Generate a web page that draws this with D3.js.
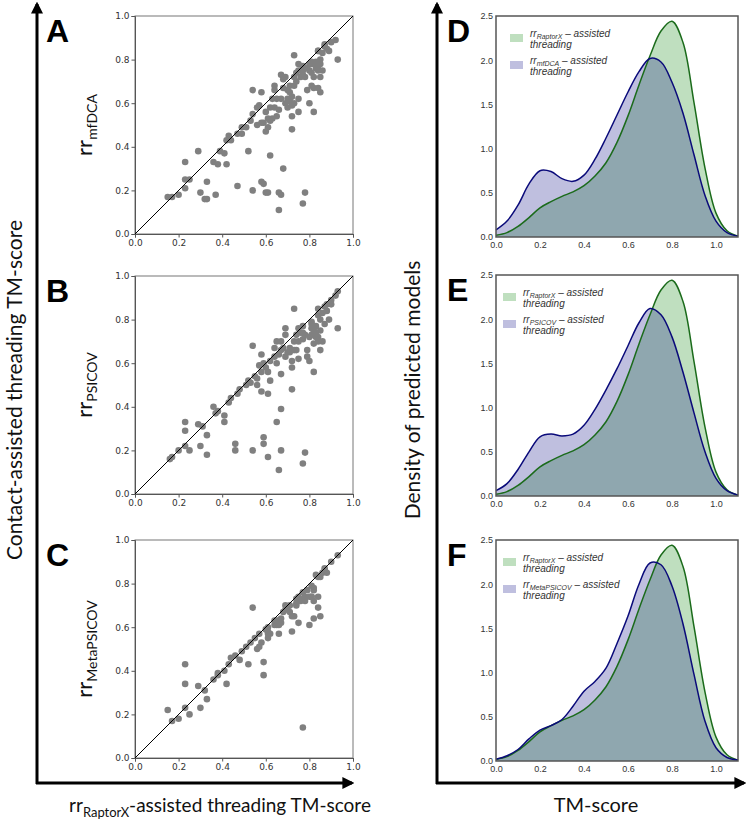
<!DOCTYPE html>
<html><head><meta charset="utf-8">
<script src="https://cdn.jsdelivr.net/npm/d3@7"></script>
<style>body{margin:0;background:#fff}svg{display:block}</style>
</head><body>
<svg id="c" width="747" height="827"></svg>
<script>
// ---------------- DATA ----------------
const scatterTicks = [0.0, 0.2, 0.4, 0.6, 0.8, 1.0];
const densityXTicks = [0.0, 0.2, 0.4, 0.6, 0.8, 1.0];
const densityYTicks = [0.0, 0.5, 1.0, 1.5, 2.0, 2.5];
const panelLetters = ["A", "B", "C", "D", "E", "F"];
const methodNames = ["mfDCA", "PSICOV", "MetaPSICOV"];

// x = rrRaptorX-assisted TM-score, y = other method
const mfdcaPoints = [[0.15,0.17],[0.17,0.17],[0.20,0.18],[0.23,0.21],[0.23,0.25],[0.25,0.25],[0.23,0.33],[0.29,0.38],[0.30,0.19],[0.32,0.16],[0.33,0.16],[0.33,0.24],[0.37,0.18],[0.36,0.33],[0.38,0.32],[0.39,0.38],[0.41,0.37],[0.42,0.32],[0.42,0.43],[0.43,0.45],[0.44,0.43],[0.47,0.22],[0.47,0.46],[0.49,0.46],[0.49,0.49],[0.51,0.49],[0.52,0.38],[0.53,0.52],[0.54,0.66],[0.54,0.20],[0.56,0.50],[0.57,0.59],[0.58,0.24],[0.59,0.23],[0.58,0.65],[0.60,0.19],[0.61,0.19],[0.59,0.51],[0.61,0.49],[0.61,0.53],[0.62,0.52],[0.60,0.56],[0.62,0.36],[0.63,0.62],[0.62,0.58],[0.64,0.66],[0.65,0.62],[0.66,0.57],[0.65,0.54],[0.66,0.19],[0.67,0.18],[0.66,0.11],[0.68,0.30],[0.67,0.73],[0.69,0.72],[0.68,0.67],[0.70,0.66],[0.71,0.68],[0.71,0.65],[0.72,0.63],[0.70,0.62],[0.71,0.61],[0.73,0.60],[0.72,0.59],[0.73,0.68],[0.74,0.70],[0.72,0.54],[0.72,0.48],[0.73,0.82],[0.75,0.56],[0.75,0.62],[0.74,0.74],[0.76,0.72],[0.77,0.75],[0.77,0.73],[0.78,0.72],[0.79,0.76],[0.80,0.75],[0.81,0.74],[0.81,0.78],[0.82,0.72],[0.83,0.79],[0.84,0.75],[0.84,0.77],[0.85,0.78],[0.86,0.75],[0.85,0.72],[0.84,0.84],[0.84,0.84],[0.86,0.83],[0.87,0.86],[0.88,0.85],[0.89,0.84],[0.90,0.88],[0.92,0.89],[0.93,0.80],[0.79,0.66],[0.81,0.68],[0.82,0.67],[0.84,0.67],[0.85,0.65],[0.80,0.60],[0.82,0.56],[0.78,0.19],[0.77,0.14],[0.64,0.68],[0.68,0.71],[0.73,0.72],[0.75,0.78],[0.77,0.77],[0.81,0.79],[0.82,0.78],[0.83,0.76],[0.85,0.80],[0.87,0.87],[0.67,0.62],[0.69,0.60],[0.70,0.58],[0.63,0.53],[0.64,0.58],[0.60,0.47],[0.58,0.51],[0.54,0.55],[0.56,0.58],[0.77,0.76],[0.80,0.78],[0.75,0.75]];

const psicovPoints = [[0.16,0.16],[0.17,0.17],[0.20,0.20],[0.23,0.22],[0.25,0.20],[0.23,0.33],[0.23,0.29],[0.29,0.32],[0.30,0.22],[0.31,0.31],[0.33,0.27],[0.33,0.18],[0.36,0.40],[0.37,0.37],[0.38,0.38],[0.41,0.36],[0.41,0.33],[0.43,0.42],[0.44,0.44],[0.46,0.23],[0.46,0.20],[0.47,0.46],[0.48,0.48],[0.51,0.50],[0.52,0.52],[0.54,0.68],[0.54,0.20],[0.55,0.54],[0.56,0.50],[0.57,0.59],[0.58,0.47],[0.58,0.64],[0.59,0.23],[0.59,0.26],[0.60,0.58],[0.61,0.56],[0.61,0.17],[0.61,0.46],[0.62,0.52],[0.62,0.61],[0.64,0.67],[0.65,0.60],[0.65,0.33],[0.66,0.11],[0.67,0.70],[0.67,0.39],[0.67,0.55],[0.67,0.20],[0.67,0.66],[0.69,0.76],[0.69,0.73],[0.70,0.65],[0.71,0.67],[0.72,0.61],[0.72,0.58],[0.72,0.48],[0.73,0.70],[0.73,0.85],[0.74,0.73],[0.74,0.66],[0.75,0.62],[0.75,0.70],[0.76,0.74],[0.77,0.77],[0.77,0.71],[0.78,0.73],[0.77,0.14],[0.78,0.19],[0.79,0.66],[0.79,0.63],[0.80,0.61],[0.81,0.76],[0.81,0.79],[0.82,0.56],[0.82,0.69],[0.83,0.77],[0.83,0.74],[0.84,0.82],[0.84,0.70],[0.84,0.85],[0.85,0.66],[0.85,0.80],[0.86,0.83],[0.86,0.70],[0.87,0.86],[0.88,0.84],[0.89,0.80],[0.90,0.89],[0.93,0.93],[0.93,0.76],[0.80,0.72],[0.81,0.73],[0.82,0.75],[0.83,0.72],[0.81,0.78],[0.77,0.74],[0.75,0.76],[0.73,0.66],[0.71,0.65],[0.68,0.67],[0.69,0.63],[0.66,0.64],[0.64,0.63],[0.59,0.60],[0.58,0.56],[0.56,0.53],[0.53,0.51],[0.85,0.75],[0.87,0.78],[0.88,0.87],[0.84,0.72],[0.90,0.87],[0.92,0.91],[0.65,0.70]];

const metapsicovPoints = [[0.15,0.22],[0.17,0.17],[0.20,0.18],[0.23,0.23],[0.23,0.43],[0.23,0.34],[0.25,0.20],[0.29,0.33],[0.30,0.23],[0.32,0.31],[0.33,0.27],[0.36,0.36],[0.38,0.38],[0.38,0.39],[0.41,0.40],[0.42,0.34],[0.43,0.43],[0.44,0.46],[0.46,0.47],[0.48,0.45],[0.49,0.49],[0.51,0.51],[0.52,0.43],[0.53,0.53],[0.54,0.69],[0.55,0.55],[0.56,0.50],[0.57,0.57],[0.58,0.53],[0.59,0.38],[0.59,0.44],[0.60,0.59],[0.61,0.58],[0.61,0.60],[0.62,0.57],[0.64,0.61],[0.65,0.61],[0.65,0.63],[0.66,0.57],[0.66,0.63],[0.67,0.64],[0.68,0.67],[0.69,0.68],[0.70,0.69],[0.71,0.70],[0.72,0.65],[0.73,0.65],[0.72,0.58],[0.74,0.71],[0.74,0.73],[0.75,0.62],[0.75,0.74],[0.76,0.72],[0.77,0.73],[0.77,0.76],[0.78,0.74],[0.77,0.14],[0.79,0.77],[0.80,0.74],[0.80,0.61],[0.81,0.74],[0.81,0.79],[0.82,0.77],[0.82,0.64],[0.83,0.84],[0.84,0.69],[0.84,0.74],[0.84,0.83],[0.85,0.65],[0.86,0.85],[0.87,0.86],[0.88,0.85],[0.90,0.90],[0.93,0.93],[0.64,0.63],[0.61,0.57],[0.66,0.61],[0.67,0.62],[0.57,0.51],[0.61,0.55],[0.81,0.74],[0.82,0.78],[0.85,0.83],[0.87,0.87],[0.74,0.70],[0.71,0.67],[0.69,0.70],[0.78,0.72],[0.82,0.72]];

// density curves sampled at TM-score grid
const tmGrid = [0.00,0.05,0.10,0.15,0.20,0.25,0.30,0.35,0.40,0.45,0.50,0.55,0.60,0.65,0.70,0.75,0.80,0.85,0.90,0.95,1.00,1.05,1.10];
const raptorxDensity     = [0.02,0.05,0.12,0.22,0.33,0.40,0.46,0.51,0.58,0.69,0.84,1.07,1.37,1.72,2.05,2.33,2.44,2.20,1.52,0.78,0.27,0.07,0.01];
const mfdcaDensity       = [0.08,0.18,0.36,0.60,0.75,0.74,0.66,0.63,0.70,0.88,1.12,1.38,1.64,1.87,2.02,1.98,1.75,1.40,0.93,0.47,0.18,0.05,0.01];
const psicovDensity      = [0.06,0.14,0.30,0.50,0.67,0.70,0.68,0.70,0.80,0.98,1.20,1.44,1.70,1.96,2.12,2.05,1.80,1.40,0.94,0.50,0.20,0.06,0.01];
const metapsicovDensity  = [0.02,0.06,0.13,0.25,0.35,0.40,0.47,0.62,0.79,0.90,1.05,1.33,1.64,2.00,2.24,2.22,1.98,1.55,0.98,0.45,0.15,0.04,0.01];

// ---------------- DRAW ----------------
const svg = d3.select("#c");
const bigFont = "Lato, 'Open Sans', sans-serif";
const narrow = "'Liberation Sans Narrow', 'Arial Narrow', 'Liberation Sans', sans-serif";

const scatterPanels = [
  {top: 16, pts: mfdcaPoints, name: methodNames[0], letter: panelLetters[0]},
  {top: 276, pts: psicovPoints, name: methodNames[1], letter: panelLetters[1]},
  {top: 540, pts: metapsicovPoints, name: methodNames[2], letter: panelLetters[2]}
];
const sLeft = 135, sSize = 218;

scatterPanels.forEach(p => {
  const g = svg.append("g").attr("transform", `translate(${sLeft},${p.top})`);
  const x = d3.scaleLinear().domain([0, 1]).range([0, sSize]);
  const y = d3.scaleLinear().domain([0, 1]).range([sSize, 0]);
  g.append("rect").attr("width", sSize).attr("height", sSize)
    .attr("fill", "none").attr("stroke", "#777").attr("stroke-width", 1);
  const xa = g.append("g").attr("transform", `translate(0,${sSize})`)
    .call(d3.axisBottom(x).tickValues(scatterTicks).tickFormat(d3.format(".1f")).tickSize(3.5).tickPadding(2));
  const ya = g.append("g")
    .call(d3.axisLeft(y).tickValues(scatterTicks).tickFormat(d3.format(".1f")).tickSize(3.5).tickPadding(2));
  [xa, ya].forEach(a => {
    a.select(".domain").attr("stroke", "#555");
    a.selectAll(".tick line").attr("stroke", "#555");
    a.selectAll("text").attr("font-family", "'DejaVu Sans', sans-serif").attr("font-size", 9).attr("fill", "#333");
  });
  g.append("g").selectAll("circle").data(p.pts).join("circle")
    .attr("cx", d => x(d[0])).attr("cy", d => y(d[1])).attr("r", 3.3).attr("fill", "#808080");
  g.append("line").attr("x1", x(0)).attr("y1", y(0)).attr("x2", x(1)).attr("y2", y(1))
    .attr("stroke", "#000").attr("stroke-width", 1);
  const yl = svg.append("text")
    .attr("transform", `translate(92,${p.top + sSize / 2}) rotate(-90)`)
    .attr("text-anchor", "middle").attr("font-family", bigFont).attr("font-size", 22).attr("fill", "#111");
  yl.append("tspan").text("rr");
  yl.append("tspan").attr("font-size", 14).attr("dy", 5).text(p.name);
  svg.append("text").attr("x", 46).attr("y", p.top + 26).attr("font-family", "'Liberation Sans', Arial, sans-serif")
    .attr("font-weight", "bold").attr("font-size", 32).attr("fill", "#000").text(p.letter);
});

const densityPanels = [
  {top: 16, d: mfdcaDensity, name: methodNames[0], letter: panelLetters[3], lx: 14},
  {top: 275, d: psicovDensity, name: methodNames[1], letter: panelLetters[4], lx: 7},
  {top: 540, d: metapsicovDensity, name: methodNames[2], letter: panelLetters[5], lx: 7}
];
const dLeft = 496, dW = 242, dH = 221;
const greenLine = "#1b6b1b", navyLine = "#0a0a7a";

densityPanels.forEach(p => {
  const g = svg.append("g").attr("transform", `translate(${dLeft},${p.top})`);
  const x = d3.scaleLinear().domain([0, 1.1]).range([0, dW]);
  const y = d3.scaleLinear().domain([0, 2.5]).range([dH, 0]);
  const area = vals => d3.area().x((d, i) => x(tmGrid[i])).y0(y(0)).y1(d => y(d))
    .curve(d3.curveCatmullRom.alpha(0.5))(vals);
  const line = vals => d3.line().x((d, i) => x(tmGrid[i])).y(d => y(d))
    .curve(d3.curveCatmullRom.alpha(0.5))(vals);
  g.append("path").attr("d", area(raptorxDensity)).attr("fill", "#008000").attr("fill-opacity", 0.25);
  g.append("path").attr("d", area(p.d)).attr("fill", "#000080").attr("fill-opacity", 0.25);
  g.append("path").attr("d", line(raptorxDensity)).attr("fill", "none").attr("stroke", greenLine).attr("stroke-width", 1.5);
  g.append("path").attr("d", line(p.d)).attr("fill", "none").attr("stroke", navyLine).attr("stroke-width", 1.5);
  g.append("rect").attr("width", dW).attr("height", dH).attr("fill", "none").attr("stroke", "#555").attr("stroke-width", 1.5);
  const xa = g.append("g").attr("transform", `translate(0,${dH})`)
    .call(d3.axisBottom(x).tickValues(densityXTicks).tickFormat(d3.format(".1f")).tickSize(0).tickPadding(5));
  const ya = g.append("g")
    .call(d3.axisLeft(y).tickValues(densityYTicks).tickFormat(d3.format(".1f")).tickSize(0).tickPadding(3));
  [xa, ya].forEach(a => {
    a.select(".domain").remove();
    a.selectAll("text").attr("font-family", narrow).attr("font-size", 9).attr("fill", "#333");
  });
  const entries = [
    {c: "#008000", name: "RaptorX", dy: 0},
    {c: "#000080", name: p.name, dy: 27}
  ];
  entries.forEach(e => {
    g.append("rect").attr("x", p.lx).attr("y", 18 + e.dy).attr("width", 13).attr("height", 8)
      .attr("fill", e.c).attr("fill-opacity", 0.25);
    const t = g.append("text").attr("x", p.lx + 20).attr("y", 21 + e.dy)
      .attr("font-family", narrow).attr("font-style", "italic").attr("font-size", 10).attr("fill", "#333");
    t.append("tspan").text("rr");
    t.append("tspan").attr("font-size", 7).attr("dy", 1.5).text(e.name);
    t.append("tspan").attr("dy", -1.5).text(" \u2013 assisted");
    g.append("text").attr("x", p.lx + 20).attr("y", 32 + e.dy)
      .attr("font-family", narrow).attr("font-style", "italic").attr("font-size", 10).attr("fill", "#333").text("threading");
  });
  svg.append("text").attr("x", 447).attr("y", p.top + 26).attr("font-family", "'Liberation Sans', Arial, sans-serif")
    .attr("font-weight", "bold").attr("font-size", 32).attr("fill", "#000").text(p.letter);
});

// big axes arrows
svg.append("defs").append("marker").attr("id", "ah").attr("viewBox", "0 0 10 10")
  .attr("refX", 8).attr("refY", 5).attr("markerWidth", 4).attr("markerHeight", 4).attr("orient", "auto")
  .append("path").attr("d", "M0,0 L10,5 L0,10 Z").attr("fill", "#000");
const arrow = (x1, y1, x2, y2) => svg.append("line").attr("x1", x1).attr("y1", y1).attr("x2", x2).attr("y2", y2)
  .attr("stroke", "#000").attr("stroke-width", 3).attr("marker-end", "url(#ah)");
arrow(37, 784, 37, 4);
arrow(36, 783, 352, 783);
arrow(437, 784, 437, 4);
arrow(436, 783, 744, 783);

// big labels
svg.append("text").attr("transform", "translate(22,390) rotate(-90)").attr("text-anchor", "middle")
  .attr("font-family", bigFont).attr("font-size", 21).attr("fill", "#111").text("Contact-assisted threading TM-score");
svg.append("text").attr("transform", "translate(420,390) rotate(-90)").attr("text-anchor", "middle")
  .attr("font-family", bigFont).attr("font-size", 21).attr("fill", "#111").text("Density of predicted models");
const bl = svg.append("text").attr("x", 220).attr("y", 812).attr("text-anchor", "middle")
  .attr("font-family", bigFont).attr("font-size", 19).attr("fill", "#111");
bl.append("tspan").text("rr");
bl.append("tspan").attr("font-size", 13).attr("dy", 5).text("RaptorX");
bl.append("tspan").attr("dy", -5).text("-assisted threading TM-score");
svg.append("text").attr("x", 596).attr("y", 812).attr("text-anchor", "middle")
  .attr("font-family", bigFont).attr("font-size", 20).attr("fill", "#111").text("TM-score");
</script>
</body></html>
